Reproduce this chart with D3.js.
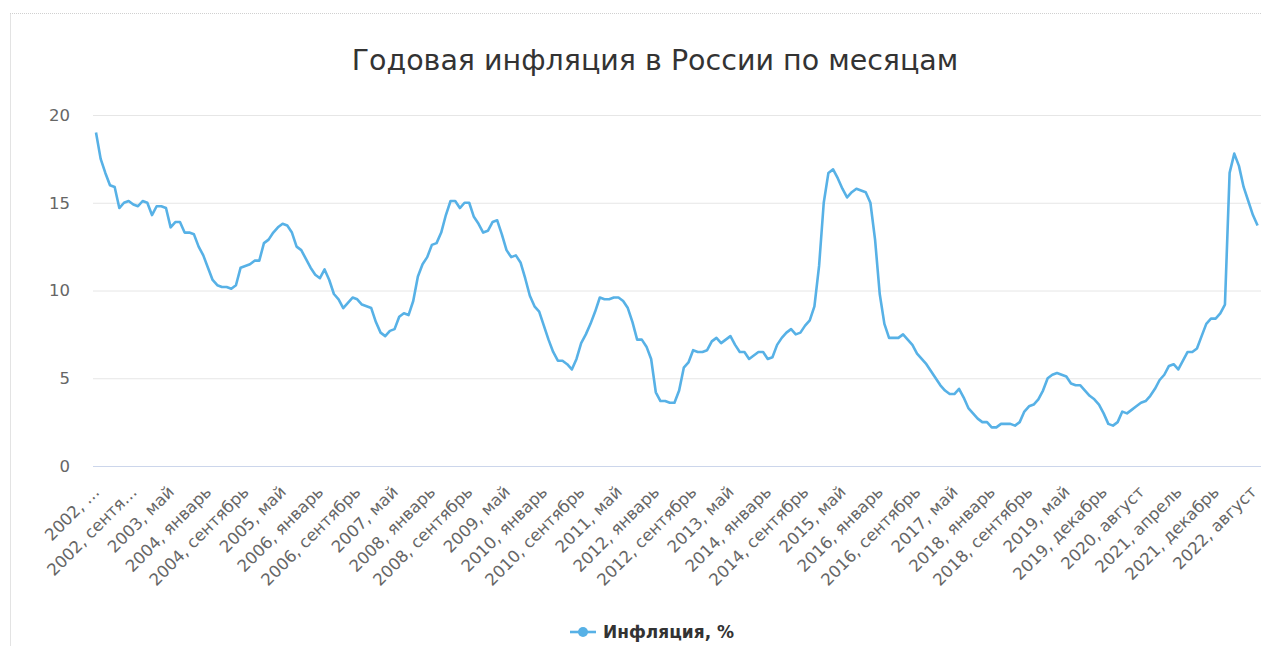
<!DOCTYPE html>
<html>
<head>
<meta charset="utf-8">
<script src="https://cdn.jsdelivr.net/npm/d3@7"></script>
<style>
  body { margin: 0; background: #fff; }
  svg { display: block; font-family: "DejaVu Sans", Verdana, sans-serif; }
</style>
</head>
<body>
<div class="line-chart"></div>
<script>
const years = d3.range(2002, 2023)
const months = ['январь','февраль','март','апрель','май','июнь','июль','август','сентябрь','октябрь','ноябрь','декабрь']

// годовая инфляция, % (по месяцам; в 2019 г. одна лишняя строка, как в исходнике)
const v2002 = [19.0, 17.5, 16.7, 16.0, 15.9, 14.7, 15.0, 15.1, 14.9, 14.8, 15.1, 15.0]
const v2003 = [14.3, 14.8, 14.8, 14.7, 13.6, 13.9, 13.9, 13.3, 13.3, 13.2, 12.5, 12.0]
const v2004 = [11.3, 10.6, 10.3, 10.2, 10.2, 10.1, 10.3, 11.3, 11.4, 11.5, 11.7, 11.7]
const v2005 = [12.7, 12.9, 13.3, 13.6, 13.8, 13.7, 13.3, 12.5, 12.3, 11.8, 11.3, 10.9]
const v2006 = [10.7, 11.2, 10.6, 9.8, 9.5, 9.0, 9.3, 9.6, 9.5, 9.2, 9.1, 9.0]
const v2007 = [8.2, 7.6, 7.4, 7.7, 7.8, 8.5, 8.7, 8.6, 9.4, 10.8, 11.5, 11.9]
const v2008 = [12.6, 12.7, 13.3, 14.3, 15.1, 15.1, 14.7, 15.0, 15.0, 14.2, 13.8, 13.3]
const v2009 = [13.4, 13.9, 14.0, 13.2, 12.3, 11.9, 12.0, 11.6, 10.7, 9.7, 9.1, 8.8]
const v2010 = [8.0, 7.2, 6.5, 6.0, 6.0, 5.8, 5.5, 6.1, 7.0, 7.5, 8.1, 8.8]
const v2011 = [9.6, 9.5, 9.5, 9.6, 9.6, 9.4, 9.0, 8.2, 7.2, 7.2, 6.8, 6.1]
const v2012 = [4.2, 3.7, 3.7, 3.6, 3.6, 4.3, 5.6, 5.9, 6.6, 6.5, 6.5, 6.6]
const v2013 = [7.1, 7.3, 7.0, 7.2, 7.4, 6.9, 6.5, 6.5, 6.1, 6.3, 6.5, 6.5]
const v2014 = [6.1, 6.2, 6.9, 7.3, 7.6, 7.8, 7.5, 7.6, 8.0, 8.3, 9.1, 11.4]
const v2015 = [15.0, 16.7, 16.9, 16.4, 15.8, 15.3, 15.6, 15.8, 15.7, 15.6, 15.0, 12.9]
const v2016 = [9.8, 8.1, 7.3, 7.3, 7.3, 7.5, 7.2, 6.9, 6.4, 6.1, 5.8, 5.4]
const v2017 = [5.0, 4.6, 4.3, 4.1, 4.1, 4.4, 3.9, 3.3, 3.0, 2.7, 2.5, 2.5]
const v2018 = [2.2, 2.2, 2.4, 2.4, 2.4, 2.3, 2.5, 3.1, 3.4, 3.5, 3.8, 4.3]
const v2019 = [5.0, 5.2, 5.3, 5.2, 5.1, 4.7, 4.6, 4.6, 4.3, 4.0, 3.8, 3.5, 3.0]
const v2020 = [2.4, 2.3, 2.5, 3.1, 3.0, 3.2, 3.4, 3.6, 3.7, 4.0, 4.4, 4.9]
const v2021 = [5.2, 5.7, 5.8, 5.5, 6.0, 6.5, 6.5, 6.7, 7.4, 8.1, 8.4, 8.4]
const v2022 = [8.7, 9.2, 16.7, 17.8, 17.1, 15.9, 15.1, 14.3, 13.7]

const yTicks = [0, 5, 10, 15, 20]
const xTickLabels = [
    '2002, …', '2002, сентя…', '2003, май', '2004, январь', '2004, сентябрь',
    '2005, май', '2006, январь', '2006, сентябрь', '2007, май', '2008, январь',
    '2008, сентябрь', '2009, май', '2010, январь', '2010, сентябрь', '2011, май',
    '2012, январь', '2012, сентябрь', '2013, май', '2014, январь', '2014, сентябрь',
    '2015, май', '2016, январь', '2016, сентябрь', '2017, май', '2018, январь',
    '2018, сентябрь', '2019, май', '2019, декабрь', '2020, август', '2021, апрель',
    '2021, декабрь', '2022, август'
]

const values = [v2002, v2003, v2004, v2005, v2006, v2007, v2008, v2009, v2010, v2011,
    v2012, v2013, v2014, v2015, v2016, v2017, v2018, v2019, v2020, v2021, v2022].flat()

const data = values.map((v, i) => ({i: i, value: v}))

const W = 1261, H = 646
const plot = {left: 93, top: 115, right: 1268, bottom: 466}

const svg = d3.select(".line-chart").append("svg")
    .attr("width", W)
    .attr("height", H)

// рамка контейнера
svg.append("line")
    .attr("x1", 10.5).attr("x2", 10.5).attr("y1", 13).attr("y2", H)
    .attr("stroke", "#e3e3e3")
svg.append("line")
    .attr("x1", 10).attr("x2", W).attr("y1", 13.5).attr("y2", 13.5)
    .attr("stroke", "#d0d0d0").attr("stroke-dasharray", "1,1")

const xScale = d3.scaleLinear()
    .domain([0, 249])
    .range([96, 1257.6])

const yScale = d3.scaleLinear()
    .domain([0, 20])
    .range([plot.bottom, plot.top])

svg.append("text")
    .attr("x", 655)
    .attr("y", 70)
    .attr("text-anchor", "middle")
    .attr("fill", "#333")
    .style("font-size", "28.5px")
    .text("Годовая инфляция в России по месяцам")

const yAxis = d3.axisLeft(yScale)
    .tickValues(yTicks)
    .tickSize(-(plot.right - plot.left))
    .tickPadding(23)

svg.append("g")
    .attr("transform", `translate(${plot.left},0)`)
    .call(yAxis)
    .attr("font-family", null)
    .call(g => g.select(".domain").remove())
    .call(g => g.selectAll(".tick line").attr("stroke", d => d === 0 ? "none" : "#e6e6e6"))
    .call(g => g.selectAll(".tick text")
        .attr("fill", "#666")
        .style("font-size", "16.5px"))

const xAxis = d3.axisBottom(xScale)
    .tickValues(d3.range(0, 249, 8))
    .tickSize(0)
    .tickFormat((d, k) => xTickLabels[k])

svg.append("g")
    .attr("transform", `translate(0,${plot.bottom})`)
    .call(xAxis)
    .attr("font-family", null)
    .call(g => g.select(".domain")
        .attr("d", `M${plot.left},0.5H${plot.right}`)
        .attr("stroke", "#ccd6eb"))
    .call(g => g.selectAll(".tick text")
        .attr("fill", "#666")
        .style("font-size", "16.5px")
        .attr("text-anchor", "end")
        .attr("dy", null)
        .attr("y", null)
        .attr("transform", "translate(4,27) rotate(-45)"))

const line = d3.line()
    .x(d => xScale(d.i))
    .y(d => yScale(d.value))

svg.append("path")
    .datum(data)
    .attr("fill", "none")
    .attr("stroke", "#57b1e6")
    .attr("stroke-width", 2.6)
    .attr("stroke-linejoin", "round")
    .attr("d", line)

// легенда
const legend = svg.append("g").attr("transform", "translate(570,632)")
legend.append("line")
    .attr("x1", 0).attr("x2", 26)
    .attr("stroke", "#57b1e6").attr("stroke-width", 2.6)
legend.append("circle")
    .attr("cx", 13).attr("r", 5)
    .attr("fill", "#57b1e6")
legend.append("text")
    .attr("x", 33)
    .attr("dy", "0.36em")
    .attr("fill", "#333")
    .style("font-size", "17px")
    .style("font-weight", "bold")
    .text("Инфляция, %")
</script>
</body>
</html>
